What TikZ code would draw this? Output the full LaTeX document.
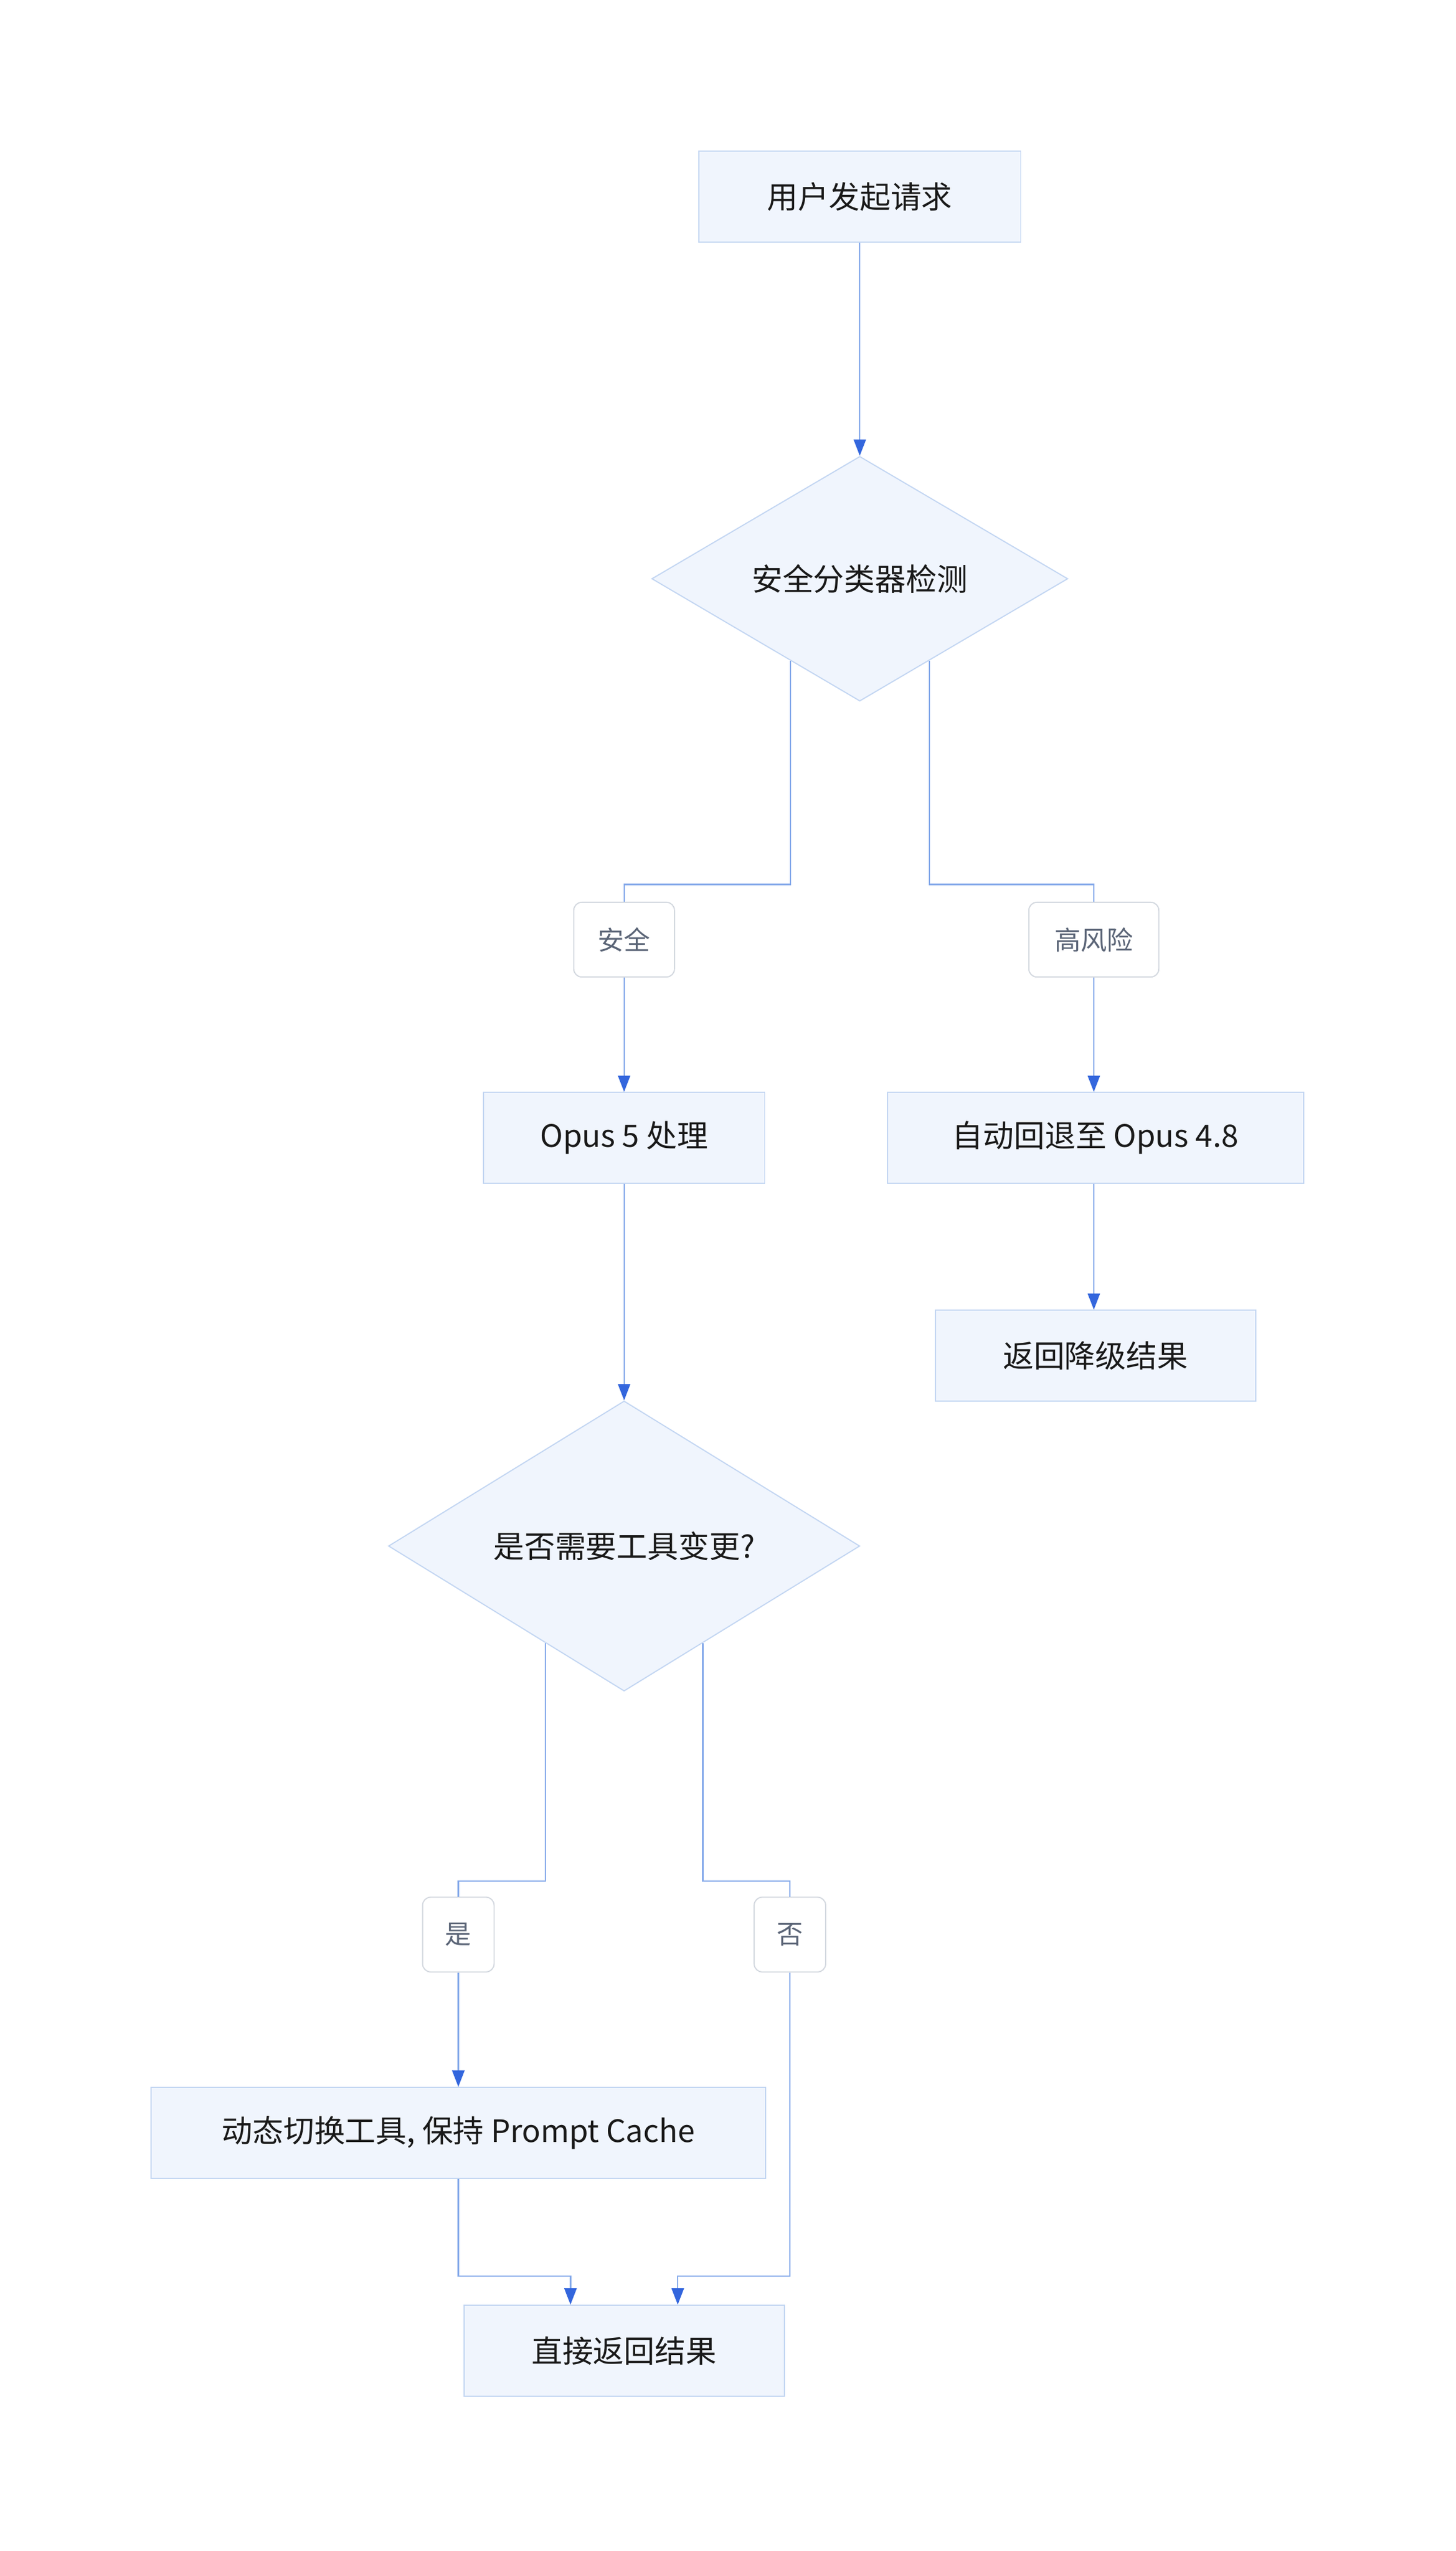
\documentclass[tikz,border=0pt]{standalone}
\usepackage{fontspec}
\setmainfont{Noto Sans CJK SC}
\usetikzlibrary{shapes.geometric,arrows.meta,calc}
\definecolor{boxfill}{HTML}{F0F5FD}
\definecolor{boxline}{HTML}{C3D6F2}
\definecolor{edgeblue}{HTML}{86AAEA}
\definecolor{tipblue}{HTML}{3366DD}
\definecolor{lblline}{HTML}{D3D8DF}
\definecolor{lbltext}{HTML}{5B6577}
\tikzset{
  procbox/.style={draw=boxline,fill=boxfill,line width=2pt,minimum height=5.6cm,
    inner sep=0pt,font=\fontsize{54}{60}\selectfont,text=black!90},
  decbox/.style={diamond,aspect=1,draw=boxline,fill=boxfill,line width=2pt,inner sep=0pt,
    font=\fontsize{54}{60}\selectfont,text=black!90},
  edgelbl/.style={draw=lblline,fill=white,rounded corners=0.5cm,line width=2pt,minimum height=4.6cm,
    inner sep=0pt,font=\fontsize{46}{50}\selectfont,text=lbltext},
  arrowline/.style={draw=edgeblue,line width=2.5pt,-{Triangle[length=1cm,width=0.75cm,color=tipblue]}},
  plainline/.style={draw=edgeblue,line width=2.5pt}
}
\begin{document}
\begin{tikzpicture}[x=0.1cm,y=-0.1cm]
\useasboundingbox (0,0) rectangle (895.8,1569.2);
% nodes
\node[procbox,minimum width=19.8cm] (req) at (529,121) {用户发起请求};
\node[decbox,minimum width=25.6cm] (safe) at (529,356) {安全分类器检测};
\node[edgelbl,minimum width=6.2cm] (tsafe) at (384,578) {安全};
\node[edgelbl,minimum width=8cm] (trisk) at (673,578) {高风险};
\node[procbox,minimum width=17.3cm] (opus) at (384,700) {Opus 5 处理};
\node[procbox,minimum width=25.6cm] (fallback) at (674,700) {自动回退至 Opus 4.8};
\node[procbox,minimum width=19.7cm] (degraded) at (674,834) {返回降级结果};
\node[decbox,minimum width=29cm] (tools) at (384,951) {是否需要工具变更?};
\node[edgelbl,minimum width=4.4cm] (tyes) at (282,1190) {是};
\node[edgelbl,minimum width=4.4cm] (tno) at (486,1190) {否};
\node[procbox,minimum width=37.8cm] (switch) at (282,1312) {动态切换工具, 保持 Prompt Cache};
\node[procbox,minimum width=19.7cm] (direct) at (384,1446) {直接返回结果};
% exit points on the diamonds
\coordinate (sl) at ($(safe.west)!0.667!(safe.south)$);
\coordinate (sr) at ($(safe.east)!0.667!(safe.south)$);
\coordinate (tl) at ($(tools.west)!0.667!(tools.south)$);
\coordinate (tr) at ($(tools.east)!0.667!(tools.south)$);
% connectors
\draw[arrowline] (req) -- (safe);
\draw[plainline] (sl) |- (384,544) -- (tsafe);
\draw[arrowline] (tsafe) -- (opus);
\draw[plainline] (sr) |- (673,544) -- (trisk);
\draw[arrowline] (trisk) -- (fallback.north -| trisk);
\draw[arrowline] (fallback.south -| trisk) -- (degraded.north -| trisk);
\draw[arrowline] (opus) -- (tools);
\draw[plainline] (tl) |- (282,1157) -- (tyes);
\draw[arrowline] (tyes) -- (switch);
\draw[plainline] (tr) |- (486,1157) -- (tno);
\draw[arrowline] (tno) |- (417,1400) -- (417,1400 |- direct.north);
\draw[arrowline] (switch) |- (351,1400) -- (351,1400 |- direct.north);
\end{tikzpicture}
\end{document}
